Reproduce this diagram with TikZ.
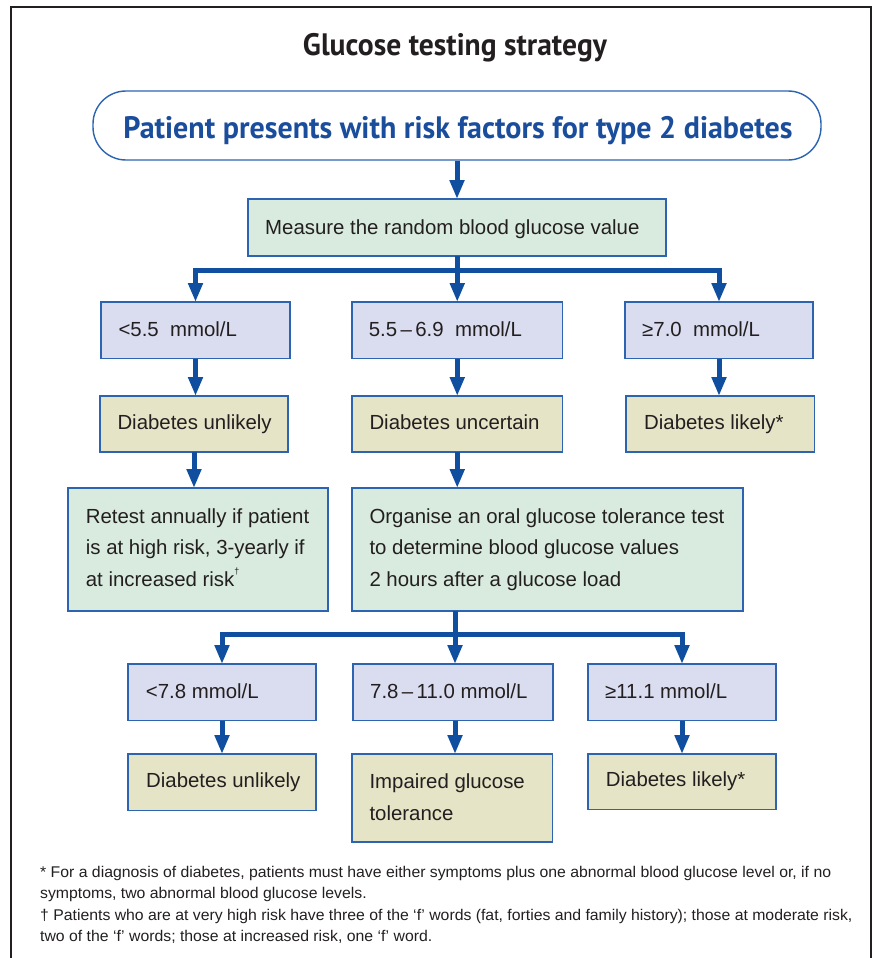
\documentclass[tikz,border=0pt]{standalone}
\usepackage{fontspec}
\setmainfont{Liberation Sans}
\newfontfamily\condfont{PT Sans}
\usetikzlibrary{arrows.meta}
\definecolor{arrowc}{RGB}{16,78,160}
\definecolor{boxc}{RGB}{45,100,178}
\definecolor{greenc}{RGB}{216,235,222}
\definecolor{lavc}{RGB}{218,220,239}
\definecolor{tanc}{RGB}{229,228,198}
\definecolor{textc}{RGB}{35,31,32}
\definecolor{headc}{RGB}{26,77,156}
\newcommand\boxfont{\fontsize{20.4pt}{24pt}\selectfont}
\newcommand\fnfont{\fontsize{15.5pt}{18pt}\selectfont}
\newcommand\flowbox[6]{\node[box, fill=#6, minimum width={#4-#2}, minimum height={#5-#3}] (#1) at (#2,#3) {};}
\newcommand\fnlineone{* For a diagnosis of diabetes, patients must have either symptoms plus one abnormal blood glucose level or, if no}
\newlength\fnw
\tikzset{
  box/.style={draw=boxc, line width=1.3pt, anchor=north west, inner sep=0pt, outer sep=0pt},
  txt/.style={anchor=base west, inner sep=0pt, text=textc, font=\boxfont},
  fn/.style={anchor=base west, inner sep=0pt, text=textc, font=\fnfont},
  arr/.style={draw=arrowc, line width=5pt, -{Triangle[width=14pt,length=19pt]}},
}
\begin{document}
\settowidth\fnw{\fnfont\fnlineone}%
\pgfmathsetmacro\fns{791/\fnw}%
\begin{tikzpicture}[x=1pt,y=-1pt]
\useasboundingbox (0,0) rectangle (876,958);
% frame
\draw[textc, line width=1.6pt] (11,958) -- (11,7) -- (871,7) -- (871,958);
% title
\node[anchor=base, inner sep=0pt, text=textc] (title) at (455,56)
  {\resizebox{304pt}{\height}{\condfont\bfseries\fontsize{31pt}{34pt}\selectfont Glucose testing strategy}};
% top rounded box
\node[draw=boxc, line width=1.4pt, fill=white, rounded corners=33pt, minimum width=728pt, minimum height=69pt, inner sep=0pt] (R) at (457,125.5) {};
\node[anchor=base, inner sep=0pt, text=headc] (Rt) at (458,138)
  {\resizebox{669pt}{\height}{\condfont\bfseries\fontsize{31pt}{34pt}\selectfont Patient presents with risk factors for type 2 diabetes}};
% boxes
\flowbox{M}{248}{199}{666}{256}{greenc}
\flowbox{A1}{101}{302}{290}{358.5}{lavc}
\flowbox{A2}{352}{302}{562.5}{358.5}{lavc}
\flowbox{A3}{625}{302}{813}{358.5}{lavc}
\flowbox{B1}{100}{396}{288}{452}{tanc}
\flowbox{B2}{352}{396}{562.5}{452}{tanc}
\flowbox{B3}{626}{396}{814.5}{452}{tanc}
\flowbox{C1}{68}{488}{328}{611}{greenc}
\flowbox{C2}{352}{488}{743}{611}{greenc}
\flowbox{D1}{128}{664}{316}{720.5}{lavc}
\flowbox{D2}{353}{664}{553}{720.5}{lavc}
\flowbox{D3}{588}{664}{776}{720.5}{lavc}
\flowbox{E1}{128}{754}{316}{810.5}{tanc}
\flowbox{E2}{352}{754}{552.5}{842}{tanc}
\flowbox{E3}{588}{754}{776}{809.5}{tanc}
% texts
\node[txt] (tM) at (265,234) {Measure the random blood glucose value};
\node[txt] (tA1) at (118.3,336) {<5.5~~mmol/L};
\node[txt] (tA2) at (368.7,336) {5.5\,–\,6.9~~mmol/L};
\node[txt] (tA3) at (642,336) {≥7.0~~mmol/L};
\node[txt] (tB1) at (117.3,429.3) {Diabetes unlikely};
\node[txt] (tB2) at (369.3,429.3) {Diabetes uncertain};
\node[txt] (tB3) at (644,429.3) {Diabetes likely*};
\node[txt] (tC1a) at (85.7,523) {Retest annually if patient};
\node[txt] (tC1b) at (85.7,554.5) {is at high risk, 3-yearly if};
\node[txt] (tC1c) at (85.7,586) {at increased risk\raisebox{1.1ex}{\fontsize{9pt}{9pt}\selectfont †}};
\node[txt] (tC2a) at (369.3,523) {Organise an oral glucose tolerance test};
\node[txt] (tC2b) at (369.3,554.5) {to determine blood glucose values};
\node[txt] (tC2c) at (369.3,586) {2 hours after a glucose load};
\node[txt] (tD1) at (145.7,698.3) {<7.8 mmol/L};
\node[txt] (tD2) at (370,698.3) {7.8\,–\,11.0 mmol/L};
\node[txt] (tD3) at (605,698.3) {≥11.1 mmol/L};
\node[txt] (tE1) at (146,787.3) {Diabetes unlikely};
\node[txt] (tE2a) at (369.3,788) {Impaired glucose};
\node[txt] (tE2b) at (369.3,820) {tolerance};
\node[txt] (tE3) at (605.7,786.7) {Diabetes likely*};
% connectors
\coordinate (bar1) at (457,270);
\coordinate (bar2) at (455,634);
\draw[arr] (R.south -| M.north) -- (M.north);
\draw[arr] (M.south -| A2.north) -- (A2.north);
\draw[arr] (bar1) -| (A1.north);
\draw[arr] (bar1) -| (A3.north);
\draw[arr] (A1.south) -- (A1.south |- B1.north);
\draw[arr] (A2.south) -- (A2.south |- B2.north);
\draw[arr] (A3.south) -- (A3.south |- B3.north);
\draw[arr] (B1.south) -- (B1.south |- C1.north);
\draw[arr] (B2.south) -- (B2.south |- C2.north);
\draw[arr] (C2.south -| bar2) -- (D2.north -| bar2);
\draw[arr] (bar2) -| (D1.north);
\draw[arr] (bar2) -| (D3.north);
\draw[arr] (D1.south) -- (D1.south |- E1.north);
\draw[arr] (D2.south -| bar2) -- (E2.north -| bar2);
\draw[arr] (D3.south) -- (D3.south |- E3.north);
% footnotes
\node[fn] (f1) at (40,877) {\scalebox{\fns}[1]{\fnlineone}};
\node[fn] (f2) at (40,898.5) {\scalebox{\fns}[1]{symptoms, two abnormal blood glucose levels.}};
\node[fn] (f3) at (40,920) {\scalebox{\fns}[1]{† Patients who are at very high risk have three of the ‘f’ words (fat, forties and family history); those at moderate risk,}};
\node[fn] (f4) at (40,941.5) {\scalebox{\fns}[1]{two of the ‘f’ words; those at increased risk, one ‘f’ word.}};
\end{tikzpicture}
\end{document}
